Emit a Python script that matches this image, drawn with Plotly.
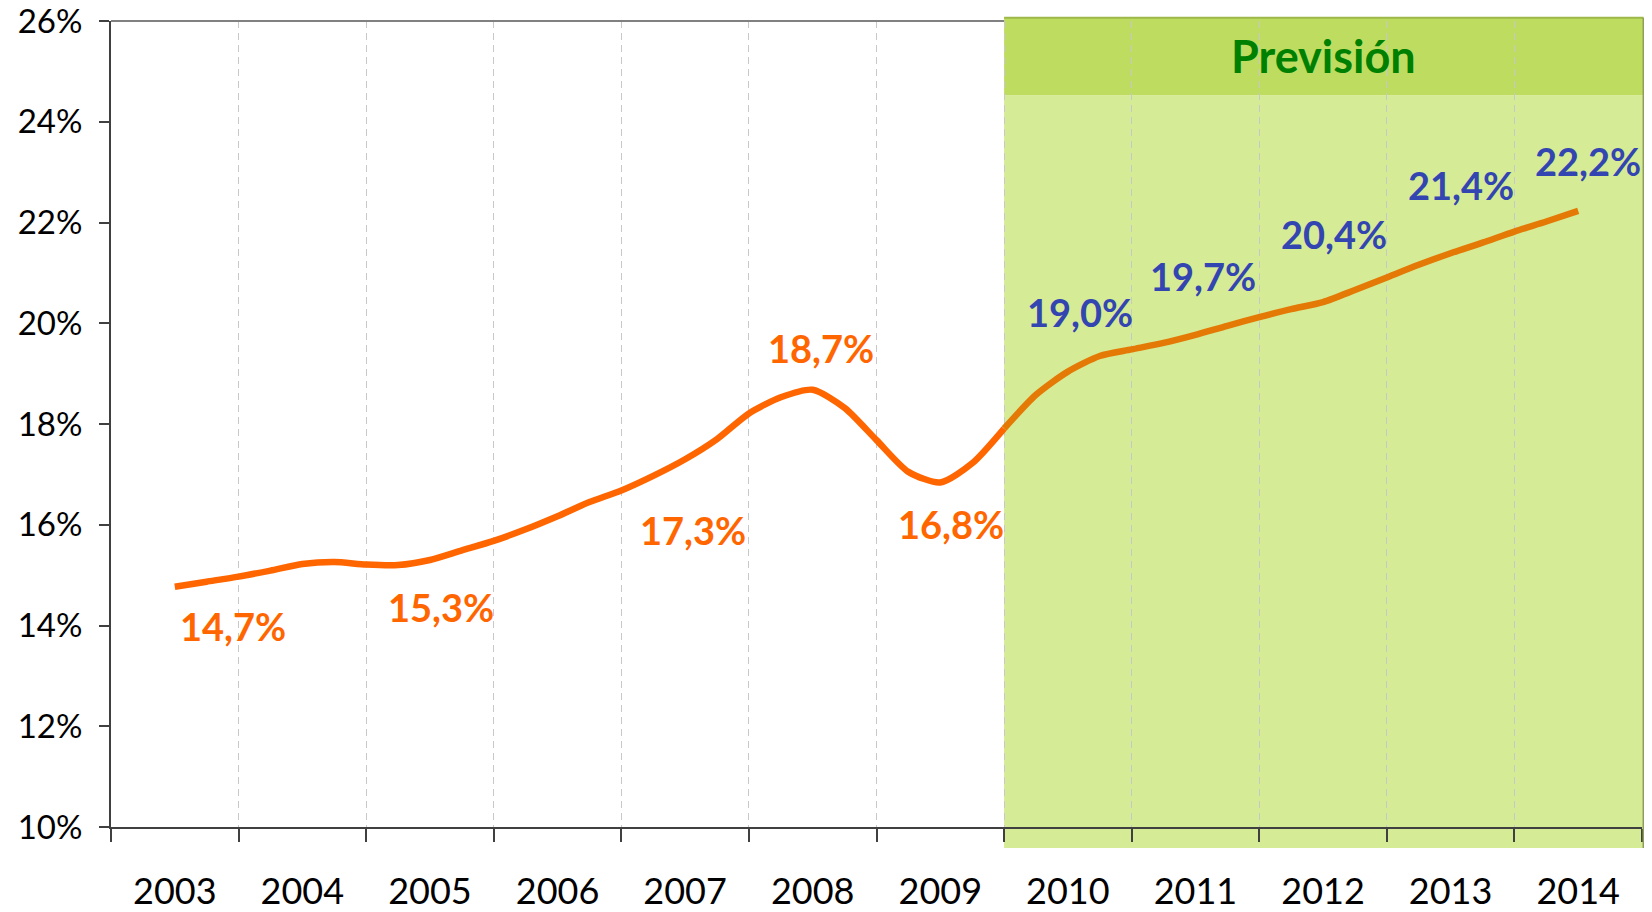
import plotly.graph_objects as go

# ---- data ----
years = [2003, 2004, 2005, 2006, 2007, 2008, 2009, 2010, 2011, 2012, 2013, 2014]
# quarterly series, first point = 2003, last = 2014 (one point per quarter)
quarterly = [14.77, 14.87, 14.97, 15.09, 15.22, 15.26, 15.21, 15.20,
             15.30, 15.49, 15.68, 15.91, 16.17, 16.45, 16.68, 16.97,
             17.30, 17.70, 18.21, 18.53, 18.68, 18.32, 17.68, 17.05,
             16.84, 17.22, 17.91, 18.58, 19.04, 19.35, 19.48, 19.61,
             19.77, 19.95, 20.12, 20.28, 20.42, 20.66, 20.91, 21.16,
             21.39, 21.60, 21.82, 22.02, 22.23]
forecast_start_year = 2010
label_years = [2003, 2005, 2007, 2008, 2009, 2010, 2011, 2012, 2013, 2014]
label_values = [14.7, 15.3, 17.3, 18.7, 16.8, 19.0, 19.7, 20.4, 21.4, 22.2]
label_shift = [(58, -39), (11, -47), (8, -71), (8, 42), (11, -42),
               (12, 60), (8, 59), (11, 68), (10, 68), (10, 50)]
y_ticks = [10, 12, 14, 16, 18, 20, 22, 24, 26]
forecast_title = "Previsión"

ORANGE = "#FF6600"
ORANGE_FC = "#E47A05"
BLUE = "#3345B0"
FONT = "Lato"

n_cat = len(years)
xq = [0.5 + i / 4 for i in range(len(quarterly))]
split = 4 * (forecast_start_year - years[0]) - 2  # index at category boundary

fig = go.Figure()
fig.add_trace(go.Scatter(x=xq[:split + 1], y=quarterly[:split + 1], mode="lines",
                         line=dict(color=ORANGE, width=6.5, shape="spline", smoothing=0.7),
                         hoverinfo="skip", showlegend=False))
fig.add_trace(go.Scatter(x=xq[split:], y=quarterly[split:], mode="lines",
                         line=dict(color=ORANGE_FC, width=6.5, shape="spline", smoothing=0.7),
                         hoverinfo="skip", showlegend=False))

# data labels
for yr, v, (dx, dy) in zip(label_years, label_values, label_shift):
    k = 4 * (yr - years[0])
    col = BLUE if yr >= forecast_start_year else ORANGE
    fig.add_annotation(x=xq[k], y=quarterly[k], xref="x", yref="y",
                       text="<b>" + f"{v:.1f}".replace(".", ",") + "%</b>",
                       showarrow=False, xshift=dx, yshift=dy,
                       xanchor="center", yanchor="middle",
                       font=dict(family=FONT, size=38, color=col))

# forecast region (decoration)
x0p = (forecast_start_year - years[0]) / n_cat
band_bottom = 0.908
fig.add_shape(type="rect", xref="paper", yref="paper", x0=x0p, x1=1.001,
              y0=-0.026, y1=band_bottom, fillcolor="#D6EB96", line=dict(width=0),
              layer="below")
fig.add_shape(type="rect", xref="paper", yref="paper", x0=x0p, x1=1.001,
              y0=band_bottom, y1=1.004, fillcolor="#BEDD60", line=dict(width=0),
              layer="below")
# plot-area border (top / right)
fig.add_shape(type="line", xref="paper", yref="paper", x0=0, x1=x0p, y0=1, y1=1,
              line=dict(color="#808080", width=2))
fig.add_shape(type="line", xref="paper", yref="paper", x0=x0p, x1=1.001, y0=1.004, y1=1.004,
              line=dict(color="#9DB84A", width=2))
fig.add_shape(type="line", xref="paper", yref="paper", x0=1.001, x1=1.001, y0=-0.026, y1=1.004,
              line=dict(color="#8E9E5A", width=2))
fig.add_annotation(x=(x0p + 1.001) / 2, y=(band_bottom + 1.004) / 2, xref="paper", yref="paper",
                   xanchor="center", yanchor="middle",
                   text="<b>" + forecast_title + "</b>", showarrow=False,
                   font=dict(family=FONT, size=45, color="#008000"))

fig.update_xaxes(range=[0, n_cat], tickmode="array", automargin=False,
                 tickvals=[i + 0.5 for i in range(n_cat)], ticktext=[str(y) for y in years],
                 ticks="", showgrid=False, zeroline=False, ticklabeloverflow="allow",
                 showline=True, linecolor="#404040", linewidth=1.5,
                 tickfont=dict(family=FONT, size=36, color="#000000"),
                 ticklabelstandoff=32,
                 minor=dict(tickvals=list(range(n_cat + 1)), ticks="outside", ticklen=13,
                            tickcolor="#404040", tickwidth=1.5, showgrid=True,
                            gridcolor="#C8C8C8", gridwidth=1, griddash="7px,5px"))
fig.update_yaxes(range=[y_ticks[0], y_ticks[-1]], tickmode="array", tickvals=y_ticks,
                 automargin=False, ticklabeloverflow="allow",
                 ticktext=[f"{t}%" for t in y_ticks], ticks="outside", ticklen=10,
                 tickcolor="#404040", tickwidth=1.5,
                 showgrid=False, zeroline=False, showline=True, linecolor="#404040",
                 linewidth=2, ticklabelstandoff=10,
                 tickfont=dict(family=FONT, size=33, color="#000000"))

# the page adds an 8px body margin, so the figure is 8px smaller on each far side
fig.update_layout(width=1644, height=904,
                  margin=dict(l=103, r=10, t=13, b=85),
                  paper_bgcolor="white", plot_bgcolor="rgba(0,0,0,0)",
                  font=dict(family=FONT))

fig.write_html("out.html")
